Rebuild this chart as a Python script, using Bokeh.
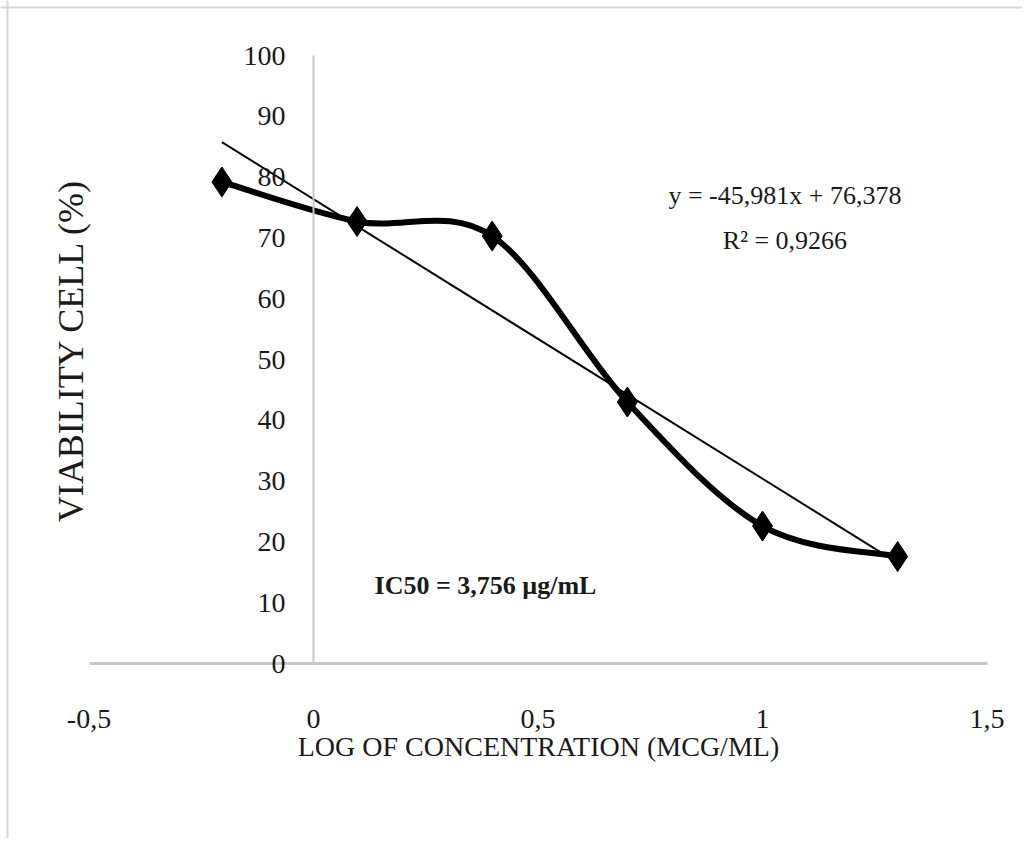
from bokeh.plotting import figure
from bokeh.models import Range1d, FixedTicker, Label, CustomJSTickFormatter, Span
from bokeh.embed import file_html
from bokeh.resources import INLINE

# ---- data ----
log_conc = [-0.204, 0.097, 0.398, 0.699, 1.0, 1.301]
viability = [79.2, 72.7, 70.3, 43.0, 22.6, 17.6]
slope = -45.981
intercept = 76.378
eq_text = "y = -45,981x + 76,378"
r2_text = "R\u00b2 = 0,9266"
ic50_text = "IC50 = 3,756 \u00b5g/mL"
x_ticks = [-0.5, 0, 0.5, 1, 1.5]
x_tick_labels = ["-0,5", "0", "0,5", "1", "1,5"]
y_ticks = [0, 10, 20, 30, 40, 50, 60, 70, 80, 90, 100]
x_title = "LOG OF CONCENTRATION (MCG/ML)"
y_title = "VIABILITY CELL (%)"

FONT = "Liberation Serif"
GREY = "#c8c8c8"
TXT = "#1a1a1a"

# ---- layout: the frame fills the whole canvas, axes cross at (0, 0) ----
W, H = 1022, 838
PX_X = 449.0      # pixels per x unit
X0 = 313.0        # pixel of x = 0 from the left
PX_Y = 6.08       # pixels per y unit
Y0 = 663.0        # pixel of y = 0 from the top

p = figure(width=W, height=H, output_backend="svg", toolbar_location=None,
           x_range=Range1d(-X0 / PX_X, (W - X0) / PX_X),
           y_range=Range1d(-(H - Y0) / PX_Y, Y0 / PX_Y),
           min_border=0, min_border_left=0, min_border_right=0,
           min_border_top=0, min_border_bottom=0)
p.outline_line_color = None
p.xgrid.visible = False
p.ygrid.visible = False

# chart-area border (top and left edges)
p.add_layout(Span(location=(7.0 - X0) / PX_X, dimension="height",
                  line_color="#d6d6d6", line_width=2))
p.add_layout(Span(location=(Y0 - 7.0) / PX_Y, dimension="width",
                  line_color="#d6d6d6", line_width=2))

# x axis along y = 0
xa = p.xaxis[0]
xa.fixed_location = 0
xa.bounds = (x_ticks[0], x_ticks[-1])
xa.ticker = FixedTicker(ticks=x_ticks)
xa.formatter = CustomJSTickFormatter(code="return tick.toString().replace('.', ',');")
xa.major_label_overrides = dict(zip(x_ticks, x_tick_labels))
xa.axis_line_color = GREY
xa.axis_line_width = 3
xa.major_tick_in = 0
xa.major_tick_out = 0
xa.minor_tick_in = 0
xa.minor_tick_out = 0
xa.major_label_standoff = 46
xa.major_label_text_font = FONT
xa.major_label_text_font_size = "28px"
xa.major_label_text_color = TXT
xa.axis_label = x_title
xa.axis_label_text_font = FONT
xa.axis_label_text_font_size = "28px"
xa.axis_label_text_font_style = "normal"
xa.axis_label_text_color = TXT
xa.axis_label_standoff = 0

# y axis along x = 0
ya = p.yaxis[0]
ya.fixed_location = 0
ya.bounds = (y_ticks[0], y_ticks[-1])
ya.ticker = FixedTicker(ticks=y_ticks)
ya.axis_line_color = GREY
ya.axis_line_width = 2
ya.major_tick_in = 0
ya.major_tick_out = 0
ya.minor_tick_in = 0
ya.minor_tick_out = 0
ya.major_label_standoff = 28
ya.major_label_text_font = FONT
ya.major_label_text_font_size = "28px"
ya.major_label_text_color = TXT

# trend line
tx = [log_conc[0], log_conc[-1]]
ty = [slope * v + intercept for v in tx]
p.line(tx, ty, line_color="black", line_width=2)

# smoothed series line (Excel-like Bezier smoothing through the points)
n = len(log_conc)
x0s, y0s, x1s, y1s, cx0, cy0, cx1, cy1 = [], [], [], [], [], [], [], []
for i in range(n - 1):
    im = max(i - 1, 0)
    ip2 = min(i + 2, n - 1)
    x0s.append(log_conc[i]); y0s.append(viability[i])
    x1s.append(log_conc[i + 1]); y1s.append(viability[i + 1])
    cx0.append(log_conc[i] + (log_conc[i + 1] - log_conc[im]) / 6)
    cy0.append(viability[i] + (viability[i + 1] - viability[im]) / 6)
    cx1.append(log_conc[i + 1] - (log_conc[ip2] - log_conc[i]) / 6)
    cy1.append(viability[i + 1] - (viability[ip2] - viability[i]) / 6)
p.bezier(x0=x0s, y0=y0s, x1=x1s, y1=y1s, cx0=cx0, cy0=cy0, cx1=cx1, cy1=cy1,
         line_color="black", line_width=6)

p.scatter(log_conc, viability, marker="diamond", size=30,
          fill_color="black", line_color="black")

# annotations
p.add_layout(Label(x=1.05, y=77, text=eq_text, text_align="center", text_baseline="middle",
                   text_font=FONT, text_font_size="26px", text_color=TXT))
p.add_layout(Label(x=1.05, y=69.6, text=r2_text, text_align="center", text_baseline="middle",
                   text_font=FONT, text_font_size="26px", text_color=TXT))
p.add_layout(Label(x=0.383, y=12.8, text=ic50_text, text_align="center", text_baseline="middle",
                   text_font=FONT, text_font_size="26px", text_font_style="bold",
                   text_color=TXT))
p.add_layout(Label(x=-0.541, y=51.5, text=y_title, angle=1.5707963, angle_units="rad",
                   text_align="center", text_baseline="middle",
                   text_font=FONT, text_font_size="36px", text_color=TXT))

open("out.html", "w").write(file_html(p, INLINE))
